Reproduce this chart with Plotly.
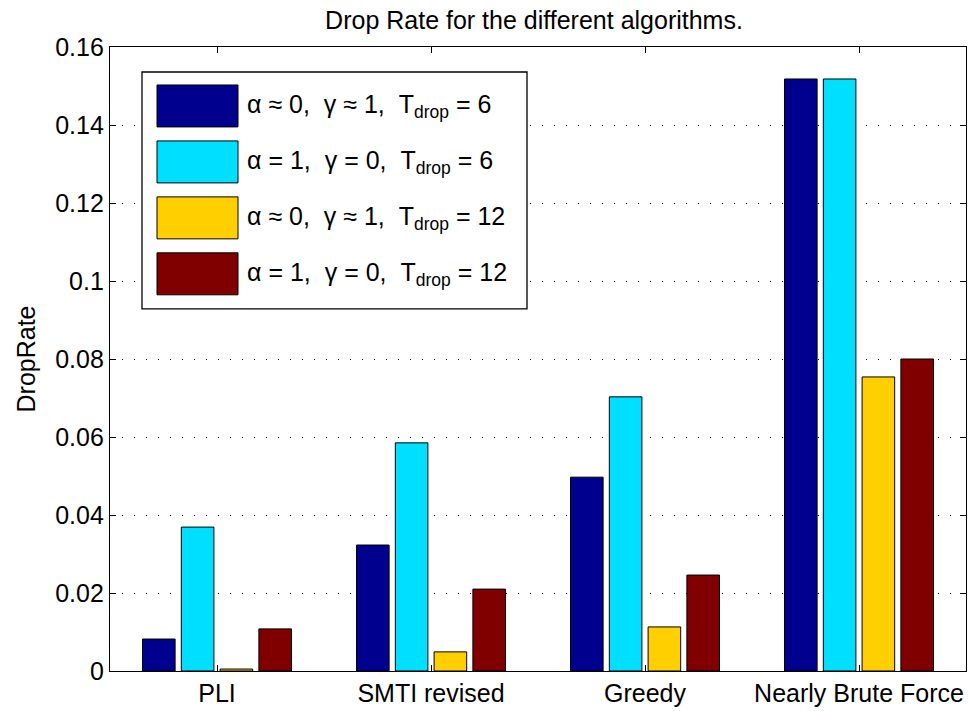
import plotly.graph_objects as go

categories = ["PLI", "SMTI revised", "Greedy", "Nearly Brute Force"]
series_names = [
    "α ≈ 0,  γ ≈ 1,  T<sub>drop</sub> = 6",
    "α = 1,  γ = 0,  T<sub>drop</sub> = 6",
    "α ≈ 0,  γ ≈ 1,  T<sub>drop</sub> = 12",
    "α = 1,  γ = 0,  T<sub>drop</sub> = 12",
]
s1 = [0.0082, 0.0323, 0.0497, 0.1518]
s2 = [0.0369, 0.0585, 0.0703, 0.1518]
s3 = [0.0005, 0.0049, 0.0113, 0.0754]
s4 = [0.0108, 0.0210, 0.0246, 0.0800]
colors = ["#00008F", "#00DFFF", "#FFCF00", "#800000"]
y_ticks = [0, 0.02, 0.04, 0.06, 0.08, 0.1, 0.12, 0.14, 0.16]
y_tick_text = ["0", "0.02", "0.04", "0.06", "0.08", "0.1", "0.12", "0.14", "0.16"]

W, H = 978, 711
L, R, T, B = 110, 966, 47, 671.5
FONT = "Liberation Sans, Arial, Helvetica, sans-serif"
FS = 25

fig = go.Figure()
xs = list(range(1, len(categories) + 1))
for vals, col in zip([s1, s2, s3, s4], colors):
    fig.add_trace(go.Bar(x=xs, y=vals, marker=dict(color=col, line=dict(color="black", width=1)),
                         showlegend=False, hoverinfo="skip"))

def px_x(p):
    return (p - L) / (R - L)

def px_y(p):
    return (B - p) / (B - T)

shapes = []
annotations = []
# legend box
shapes.append(dict(type="rect", xref="paper", yref="paper",
                   x0=px_x(142), x1=px_x(527), y0=px_y(309), y1=px_y(72),
                   line=dict(color="black", width=1.3), fillcolor="white", layer="above"))
for i, (name, col) in enumerate(zip(series_names, colors)):
    top = 85 + 56 * i
    shapes.append(dict(type="rect", xref="paper", yref="paper",
                       x0=px_x(157), x1=px_x(238), y0=px_y(top + 42), y1=px_y(top),
                       line=dict(color="black", width=1), fillcolor=col, layer="above"))
    annotations.append(dict(xref="paper", yref="paper", x=px_x(245), y=px_y(top + 21),
                            xanchor="left", yanchor="middle", text=name, showarrow=False,
                            font=dict(family=FONT, size=FS, color="black")))

fig.update_layout(
    width=W, height=H,
    margin=dict(l=L, r=W - R, t=T, b=H - B),
    paper_bgcolor="white", plot_bgcolor="white",
    barmode="group", bargap=0.275, bargroupgap=0.16,
    font=dict(family=FONT, size=FS, color="black"),
    title=dict(text="Drop Rate for the different algorithms.", x=534 / W,
               xanchor="center", y=1 - 20 / H, yanchor="middle",
               font=dict(family=FONT, size=FS, color="black")),
    shapes=shapes, annotations=annotations,
)
fig.update_xaxes(range=[0.5, 4.5], tickvals=xs, ticktext=categories, ticks="inside", ticklen=6,
                 tickcolor="black", showline=True, linecolor="black", linewidth=1.3, mirror="allticks",
                 showgrid=False, zeroline=False, tickfont=dict(size=FS), automargin=False)
fig.update_yaxes(range=[0, 0.16], tickvals=y_ticks, ticktext=y_tick_text, ticks="inside", ticklen=6,
                 tickcolor="black", showline=True, linecolor="black", linewidth=1.3, mirror="allticks",
                 showgrid=True, gridcolor="black", gridwidth=1, griddash="1px,11px", zeroline=False,
                 tickfont=dict(size=FS), automargin=False,
                 title=dict(text="DropRate", standoff=12, font=dict(size=FS)))

fig.write_html("out.html", config={"displayModeBar": False},
               post_script="document.body.style.margin='0';document.body.style.overflow='hidden';")
